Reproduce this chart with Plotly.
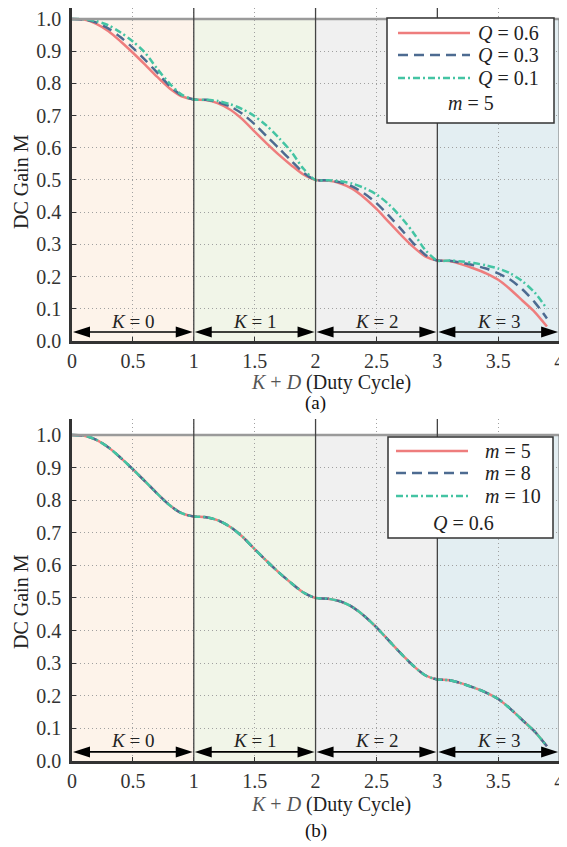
import plotly.graph_objects as go

# ---------------- data ----------------
kd = [0.0, 0.1, 0.2, 0.3, 0.4, 0.5, 0.6, 0.7, 0.8, 0.9, 1.0,
      1.1, 1.2, 1.3, 1.4, 1.5, 1.6, 1.7, 1.8, 1.9, 2.0,
      2.1, 2.2, 2.3, 2.4, 2.5, 2.6, 2.7, 2.8, 2.9, 3.0,
      3.1, 3.2, 3.3, 3.4, 3.5, 3.6, 3.7, 3.8, 3.9]

gain_q06 = [1.000, 0.998, 0.985, 0.962, 0.930, 0.895, 0.858, 0.820, 0.785, 0.760, 0.750,
            0.748, 0.738, 0.718, 0.688, 0.650, 0.613, 0.578, 0.546, 0.517, 0.500,
            0.498, 0.490, 0.473, 0.445, 0.410, 0.370, 0.330, 0.293, 0.263, 0.250,
            0.248, 0.238, 0.225, 0.210, 0.190, 0.160, 0.125, 0.090, 0.045]
gain_q03 = [1.000, 0.998, 0.989, 0.970, 0.943, 0.910, 0.873, 0.833, 0.793, 0.763, 0.750,
            0.749, 0.741, 0.728, 0.705, 0.673, 0.635, 0.598, 0.560, 0.523, 0.500,
            0.499, 0.493, 0.480, 0.458, 0.428, 0.390, 0.348, 0.305, 0.268, 0.250,
            0.249, 0.243, 0.235, 0.225, 0.210, 0.190, 0.160, 0.120, 0.070]
gain_q01 = [1.000, 0.999, 0.993, 0.980, 0.958, 0.930, 0.895, 0.845, 0.800, 0.765, 0.750,
            0.749, 0.745, 0.735, 0.720, 0.698, 0.668, 0.630, 0.588, 0.535, 0.500,
            0.499, 0.496, 0.489, 0.475, 0.455, 0.425, 0.385, 0.338, 0.283, 0.250,
            0.250, 0.247, 0.242, 0.235, 0.225, 0.210, 0.185, 0.150, 0.100]

gain_m5 = [1.000, 0.998, 0.985, 0.962, 0.930, 0.895, 0.858, 0.820, 0.785, 0.760, 0.750,
           0.748, 0.738, 0.718, 0.688, 0.650, 0.613, 0.578, 0.546, 0.517, 0.500,
           0.498, 0.490, 0.473, 0.445, 0.410, 0.370, 0.330, 0.293, 0.263, 0.250,
           0.248, 0.238, 0.225, 0.210, 0.190, 0.160, 0.125, 0.090, 0.045]
gain_m8 = [1.000, 0.998, 0.985, 0.962, 0.930, 0.895, 0.858, 0.820, 0.785, 0.760, 0.750,
           0.748, 0.738, 0.718, 0.688, 0.650, 0.613, 0.578, 0.546, 0.517, 0.500,
           0.498, 0.490, 0.473, 0.445, 0.410, 0.370, 0.330, 0.293, 0.263, 0.250,
           0.248, 0.238, 0.225, 0.210, 0.190, 0.160, 0.125, 0.090, 0.045]
gain_m10 = [1.000, 0.998, 0.985, 0.962, 0.930, 0.895, 0.858, 0.820, 0.785, 0.760, 0.750,
            0.748, 0.738, 0.718, 0.688, 0.650, 0.613, 0.578, 0.546, 0.517, 0.500,
            0.498, 0.490, 0.473, 0.445, 0.410, 0.370, 0.330, 0.293, 0.263, 0.250,
            0.248, 0.238, 0.225, 0.210, 0.190, 0.160, 0.125, 0.090, 0.045]

k_regions = [0, 1, 2, 3]
region_labels = ["<i>K</i> = 0", "<i>K</i> = 1", "<i>K</i> = 2", "<i>K</i> = 3"]
x_tickvals = [0, 0.5, 1, 1.5, 2, 2.5, 3, 3.5, 4]
x_ticktext = ["0", "0.5", "1", "1.5", "2", "2.5", "3", "3.5", "4"]
y_tickvals = [0.0, 0.1, 0.2, 0.3, 0.4, 0.5, 0.6, 0.7, 0.8, 0.9, 1.0]
y_ticktext = ["0.0", "0.1", "0.2", "0.3", "0.4", "0.5", "0.6", "0.7", "0.8", "0.9", "1.0"]

legend_a = ["<i>Q</i> = 0.6", "<i>Q</i> = 0.3", "<i>Q</i> = 0.1"]
legend_a_note = "<i>m</i> = 5"
legend_b = ["<i>m</i> = 5", "<i>m</i> = 8", "<i>m</i> = 10"]
legend_b_note = "<i>Q</i> = 0.6"

# ---------------- styles ----------------
# the page body has an 8 px margin, so the figure is placed 8 px in from the corner
OFF = 8
W, H = 567 - OFF, 847 - OFF
FONT = "Liberation Serif"
RED, BLUE, TEAL = "#ee7d7d", "#4d6b91", "#44c4a3"
DASHES = ["solid", "10px,6px", "7px,3px,2px,3px"]
COLORS = [RED, BLUE, TEAL]
REGION_FILL = ["#fdf3ea", "#f1f5e8", "#f0f0f0", "#e3eef2"]


def px(xp):
    return (xp - OFF) / W


def py(yp):
    return 1 - (yp - OFF) / H


fig = go.Figure()

top_series = [gain_q06, gain_q03, gain_q01]
bot_series = [gain_m5, gain_m8, gain_m10]
top_names = ["Q = 0.6", "Q = 0.3", "Q = 0.1"]
bot_names = ["m = 5", "m = 8", "m = 10"]

for s, nm, c, d in zip(top_series, top_names, COLORS, DASHES):
    fig.add_trace(go.Scatter(x=kd, y=s, name=nm, mode="lines", xaxis="x", yaxis="y",
                             line=dict(color=c, width=2.5, dash=d, shape="spline", smoothing=0.8),
                             showlegend=False))
for s, nm, c, d in zip(bot_series, bot_names, COLORS, DASHES):
    fig.add_trace(go.Scatter(x=kd, y=s, name=nm, mode="lines", xaxis="x2", yaxis="y2",
                             line=dict(color=c, width=2.5, dash=d, shape="spline", smoothing=0.8),
                             showlegend=False))

axis_common = dict(
    showgrid=True, gridcolor="#a0a0a0", griddash="1px,3px", gridwidth=1,
    showline=True, linecolor="#333333", linewidth=2.5, zeroline=False,
    ticks="inside", ticklen=4, tickcolor="#333333", tickwidth=1,
    tickfont=dict(family=FONT, size=20, color="#333333"),
    automargin=False, ticklabeloverflow="allow",
)

Y_TOP0, Y_BOT0 = 341, 761
YR_TOP = 1.034
YR_BOT = 1.049
fig.update_layout(
    width=W, height=H, autosize=False,
    margin=dict(l=0, r=0, t=0, b=0, pad=0),
    paper_bgcolor="white", plot_bgcolor="white",
    xaxis=dict(domain=[px(72), px(564)], range=[0, 4.04], anchor="y",
               tickmode="array", tickvals=x_tickvals, ticktext=x_ticktext,
               ticklabelstandoff=0, **axis_common),
    yaxis=dict(domain=[py(Y_TOP0), 1.0], range=[0, YR_TOP], anchor="x",
               tickmode="array", tickvals=y_tickvals, ticktext=y_ticktext,
               ticklabelstandoff=4, **axis_common),
    xaxis2=dict(domain=[px(72), px(564)], range=[0, 4.04], anchor="y2",
                tickmode="array", tickvals=x_tickvals, ticktext=x_ticktext,
                ticklabelstandoff=0, **axis_common),
    yaxis2=dict(domain=[py(Y_BOT0), py(Y_BOT0 - 326 * YR_BOT)], range=[0, YR_BOT], anchor="x2",
                tickmode="array", tickvals=y_tickvals, ticktext=y_ticktext,
                ticklabelstandoff=4, **axis_common),
)

shapes = []
annotations = []
ARROW_Y = 0.028
for xr, yr, ytop in [("x", "y", YR_TOP), ("x2", "y2", YR_BOT)]:
    for k, fillc, lab in zip(k_regions, REGION_FILL, region_labels):
        shapes.append(dict(type="rect", xref=xr, yref=yr, x0=k, x1=k + 1, y0=0, y1=1.0,
                           fillcolor=fillc, line=dict(width=0), layer="below"))
        # double-headed arrow
        shapes.append(dict(type="line", xref=xr, yref=yr, x0=k + 0.05, x1=k + 0.95,
                           y0=ARROW_Y, y1=ARROW_Y, line=dict(color="black", width=1.6)))
        shapes.append(dict(type="path", xref=xr, yref=yr, xsizemode="pixel", ysizemode="pixel",
                           xanchor=k, yanchor=ARROW_Y, path="M1,0 L18,5.5 L18,-5.5 Z",
                           fillcolor="black", line=dict(width=0)))
        shapes.append(dict(type="path", xref=xr, yref=yr, xsizemode="pixel", ysizemode="pixel",
                           xanchor=k + 1, yanchor=ARROW_Y, path="M-1,0 L-18,5.5 L-18,-5.5 Z",
                           fillcolor="black", line=dict(width=0)))
        annotations.append(dict(xref=xr, yref=yr, x=k + 0.5, y=0.062, text=lab, showarrow=False,
                                font=dict(family=FONT, size=19, color="#222222"),
                                xanchor="center", yanchor="middle"))
    # top border of shaded band
    shapes.append(dict(type="line", xref=xr, yref=yr, x0=0, x1=4, y0=1.0, y1=1.0,
                       line=dict(color="#9a9a9a", width=2.5)))
    for k in [1, 2, 3]:
        shapes.append(dict(type="line", xref=xr, yref=yr, x0=k, x1=k, y0=0, y1=ytop,
                           line=dict(color="#444444", width=1.3)))
    shapes.append(dict(type="line", xref=xr, yref=yr, x0=4, x1=4, y0=0, y1=1.0,
                       line=dict(color="#777777", width=1.3)))


def add_legend(box, rows_y, line_x, text_x, labels, note, note_xy):
    x0, y0, x1, y1 = box
    shapes.append(dict(type="rect", xref="paper", yref="paper", x0=px(x0), x1=px(x1),
                       y0=py(y1), y1=py(y0), fillcolor="white",
                       line=dict(color="#333333", width=1.5)))
    for ry, c, d, lab in zip(rows_y, COLORS, DASHES, labels):
        shapes.append(dict(type="line", xref="paper", yref="paper", x0=px(line_x[0]), x1=px(line_x[1]),
                           y0=py(ry), y1=py(ry), line=dict(color=c, width=2.5, dash=d)))
        annotations.append(dict(xref="paper", yref="paper", x=px(text_x), y=py(ry), text=lab,
                                showarrow=False, xanchor="left", yanchor="middle",
                                font=dict(family=FONT, size=20, color="#222222")))
    annotations.append(dict(xref="paper", yref="paper", x=px(note_xy[0]), y=py(note_xy[1]), text=note,
                            showarrow=False, xanchor="center", yanchor="middle",
                            font=dict(family=FONT, size=20, color="#222222")))


add_legend((387, 18, 554, 123), [33, 55, 78], (398, 470), 476, legend_a, legend_a_note, (471, 103))
add_legend((388, 437, 553, 538), [451, 473, 496], (396, 468), 483, legend_b, legend_b_note, (463, 523))

# axis titles and panel labels
xtitle = ('<span style="color:#555555"><i>K</i> + <i>D</i></span> '
          '<span style="color:#222222">(Duty Cycle)</span>')
for ty, lab_y, lab in [(382, 403, "(a)"), (804, 831, "(b)")]:
    annotations.append(dict(xref="paper", yref="paper", x=px(331), y=py(ty), text=xtitle,
                            showarrow=False, xanchor="center", yanchor="middle",
                            font=dict(family=FONT, size=20)))
    annotations.append(dict(xref="paper", yref="paper", x=px(316), y=py(lab_y), text=lab,
                            showarrow=False, xanchor="center", yanchor="middle",
                            font=dict(family=FONT, size=19, color="#111111")))
for cy in [182, 602]:
    annotations.append(dict(xref="paper", yref="paper", x=px(21), y=py(cy), text="DC Gain M",
                            textangle=-90, showarrow=False, xanchor="center", yanchor="middle",
                            font=dict(family=FONT, size=20, color="#222222")))

fig.update_layout(shapes=shapes, annotations=annotations)
fig.write_html("out.html")
